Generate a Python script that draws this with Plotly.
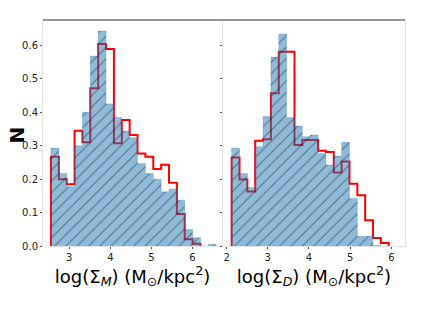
import plotly.graph_objects as go
from plotly.subplots import make_subplots

# ---- data (normalised histogram heights per bin) ----
m_start = 2.553
m_width = 0.1917
m_blue = [0.293, 0.217, 0.177, 0.300, 0.400, 0.568, 0.643, 0.425, 0.384, 0.344,
          0.324, 0.247, 0.217, 0.200, 0.162, 0.170, 0.137, 0.049, 0.025, 0.000, 0.005]
m_red = [0.267, 0.200, 0.185, 0.345, 0.310, 0.472, 0.604, 0.589, 0.307, 0.377,
         0.332, 0.277, 0.267, 0.230, 0.243, 0.189, 0.096, 0.020, 0.007]

d_start = 2.123
d_width = 0.1907
d_blue = [0.293, 0.217, 0.175, 0.297, 0.387, 0.565, 0.634, 0.384, 0.359, 0.327,
          0.332, 0.277, 0.242, 0.269, 0.310, 0.142, 0.029, 0.029, 0.002]
d_red = [0.265, 0.199, 0.163, 0.315, 0.319, 0.457, 0.581, 0.581, 0.302, 0.317,
         0.317, 0.285, 0.281, 0.220, 0.253, 0.186, 0.152, 0.077, 0.024, 0.009]

x_ticks_m = [3, 4, 5, 6]
x_ticks_d = [2, 3, 4, 5, 6]
y_ticks = [0.0, 0.1, 0.2, 0.3, 0.4, 0.5, 0.6]

x_title_m = "log(Σ<sub><i>M</i></sub>) (M<sub>⊙</sub>/kpc<sup>2</sup>)"
x_title_d = "log(Σ<sub><i>D</i></sub>) (M<sub>⊙</sub>/kpc<sup>2</sup>)"
y_title = "N"


def step_xy(start, width, vals):
    edges = [start + i * width for i in range(len(vals) + 1)]
    x = [edges[0]] + edges[:-1] + [edges[-1]]
    y = [0] + list(vals) + [0]
    return x, y


fig = make_subplots(rows=1, cols=2, shared_yaxes=True, horizontal_spacing=0.003)

BLUE = "rgba(31,119,180,0.5)"
for col, (start, width, blue, red) in enumerate(
        [(m_start, m_width, m_blue, m_red), (d_start, d_width, d_blue, d_red)], start=1):
    rx, ry = step_xy(start, width, red)
    fig.add_trace(go.Scatter(x=rx, y=ry, mode="lines",
                             line=dict(color="red", width=2, shape="hv"),
                             showlegend=False, hoverinfo="skip"), row=1, col=col)
    bx, by = step_xy(start, width, blue)
    fig.add_trace(go.Scatter(x=bx, y=by, mode="lines",
                             line=dict(color="rgba(31,119,180,0.25)", width=1, shape="hv"),
                             fill="tozeroy", fillcolor=BLUE,
                             fillpattern=dict(shape="/", fgcolor="rgba(10,10,25,0.85)",
                                              bgcolor=BLUE, size=8, solidity=0.14),
                             showlegend=False, hoverinfo="skip"), row=1, col=col)

axis_common = dict(showgrid=False, zeroline=False, showline=True, linecolor="#e4e4e4",
                   linewidth=1, mirror=True, ticks="outside", ticklen=2, tickcolor="#555",
                   automargin=False,
                   tickfont=dict(family="DejaVu Sans", size=10, color="#222"))

fig.update_layout(
    width=436, height=327,
    margin=dict(l=43, r=31, t=20, b=81),
    paper_bgcolor="white", plot_bgcolor="white",
    font=dict(family="DejaVu Sans", color="black"),
    xaxis=dict(domain=[0, 0.4945], range=[2.359, 6.72], tickvals=x_ticks_m,
               title=dict(text=x_title_m, font=dict(size=18, color="black"), standoff=1),
               **axis_common),
    xaxis2=dict(domain=[0.497, 1], range=[1.911, 6.332], tickvals=x_ticks_d,
                title=dict(text=x_title_d, font=dict(size=18, color="black"), standoff=1),
                **axis_common),
    yaxis=dict(range=[0, 0.676], tickvals=y_ticks, tickformat=".1f", **axis_common),
    yaxis2=dict(range=[0, 0.676], tickvals=y_ticks, showticklabels=False, matches="y",
                **axis_common),
    shapes=[dict(type="line", xref="paper", yref="paper", x0=0, x1=1, y0=1, y1=1,
                 line=dict(color="#777", width=1.5))],
    annotations=[dict(text="<b>" + y_title + "</b>", textangle=-90, showarrow=False,
                      xref="paper", yref="paper", x=-0.071, y=0.49,
                      xanchor="center", yanchor="middle",
                      font=dict(family="DejaVu Sans", size=20, color="black"))],
)

fig.write_html("out.html", config={"displayModeBar": False},
               post_script="document.body.style.margin='0';document.body.style.overflow='hidden';")
